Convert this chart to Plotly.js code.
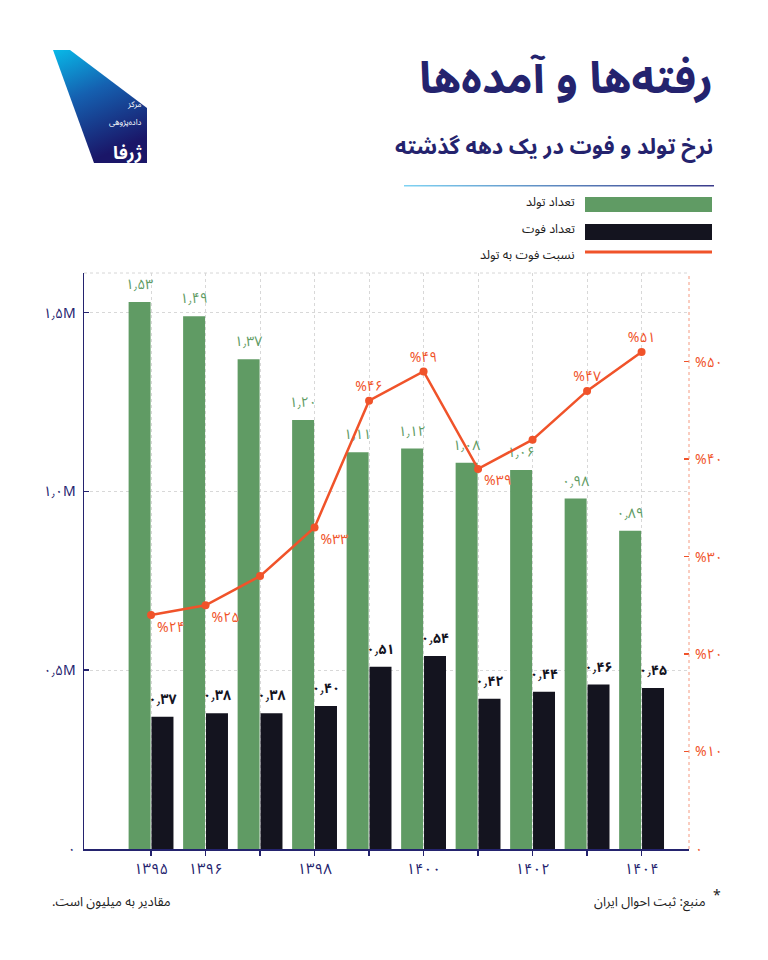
<!DOCTYPE html>
<html>
<head>
<meta charset="utf-8">
<script src="https://cdn.plot.ly/plotly-3.0.1.min.js"></script>
<style>html,body{margin:0;padding:0;background:#fff;}#chart{width:768px;height:960px;}</style>
</head>
<body>
<div id="chart"></div>
<script>
// ---- data ----
const years = [1395, 1396, 1397, 1398, 1399, 1400, 1401, 1402, 1403, 1404];
const yearLabels = ['۱۳۹۵', '۱۳۹۶', '', '۱۳۹۸', '', '۱۴۰۰', '', '۱۴۰۲', '', '۱۴۰۴'];
const births = [1.53, 1.49, 1.37, 1.20, 1.11, 1.12, 1.08, 1.06, 0.98, 0.89];
const deaths = [0.37, 0.38, 0.38, 0.40, 0.51, 0.54, 0.42, 0.44, 0.46, 0.45];
const ratio = [24, 25, 28, 33, 46, 49, 39, 42, 47, 51];
const ratioLabelShown = [true, true, false, true, true, true, true, false, true, true];
const leftTicks = [0, 0.5, 1.0, 1.5];
const leftTickLabels = ['۰', '۰٫۵M', '۱٫۰M', '۱٫۵M'];
const rightTicks = [0, 10, 20, 30, 40, 50];
const rightTickLabels = ['۰', '%۱۰', '%۲۰', '%۳۰', '%۴۰', '%۵۰'];

// ---- helpers ----
const fa = s => String(s).replace(/\d/g, d => '۰۱۲۳۴۵۶۷۸۹'[+d]).replace('.', '٫');
const W = 768, H = 960;
const L = 84, R = 689, T = 273, B = 849;
const px2x = px => (px - L) / (R - L);
const px2y = py => (B - py) / (B - T);

const NAVY = '#24236e';
const GREEN = '#609b64';
const DARK = '#14141f';
const ORANGE = '#f0532a';
const FONT = "'Noto Sans Arabic', 'DejaVu Sans', sans-serif";

const ratioPos = ['bottom right', 'bottom right', 'top center', 'bottom right', 'top center',
                  'top center', 'bottom right', 'top center', 'top center', 'top center'];

const traces = [
  {
    type: 'bar', x: years, y: births, name: 'تعداد تولد',
    marker: {color: GREEN},
    text: births.map(v => fa(v.toFixed(2))),
    textposition: 'outside', cliponaxis: false, constraintext: 'none',
    textfont: {family: FONT, size: 14, color: GREEN},
    hoverinfo: 'skip'
  },
  {
    type: 'bar', x: years, y: deaths, name: 'تعداد فوت',
    marker: {color: DARK},
    text: deaths.map(v => '<b>' + fa(v.toFixed(2)) + '</b>'),
    textposition: 'outside', cliponaxis: false, constraintext: 'none',
    textfont: {family: FONT, size: 14, color: DARK},
    hoverinfo: 'skip'
  },
  {
    type: 'scatter', x: years, y: ratio, yaxis: 'y2', name: 'نسبت فوت به تولد',
    mode: 'lines+markers+text',
    line: {color: ORANGE, width: 2.5},
    marker: {color: ORANGE, size: 8},
    text: ratio.map((v, i) => ratioLabelShown[i] ? '%' + fa(v) : ''),
    textposition: ratioPos,
    textfont: {family: FONT, size: 14, color: ORANGE},
    cliponaxis: false,
    hoverinfo: 'skip'
  }
];

// logo svg (decorative gradient polygon)
const logoSvg = `<svg xmlns="http://www.w3.org/2000/svg" width="96" height="115" viewBox="0 0 96 115">
<defs><linearGradient id="g" x1="0" y1="0" x2="0.35" y2="1">
<stop offset="0" stop-color="#08b9e8"/><stop offset="0.45" stop-color="#1560b0"/><stop offset="1" stop-color="#1a1668"/></linearGradient></defs>
<polygon points="1,1 18,1 95,59 95,114 42,114" fill="url(#g)"/></svg>`;
const lineSvg = `<svg xmlns="http://www.w3.org/2000/svg" width="310" height="4" viewBox="0 0 310 4">
<defs><linearGradient id="h" x1="0" y1="0" x2="1" y2="0">
<stop offset="0" stop-color="#7fd3f3"/><stop offset="1" stop-color="#3a3a8a"/></linearGradient></defs>
<rect x="0" y="1" width="310" height="1.5" fill="url(#h)"/></svg>`;
const uri = s => 'data:image/svg+xml;charset=utf-8,' + encodeURIComponent(s);

const annotations = [
  {text: '<b>رفته‌ها و آمده‌ها</b>', x: px2x(714), y: px2y(79), xanchor: 'right', yanchor: 'middle',
   font: {family: FONT, size: 44, color: NAVY}, borderpad: 0},
  {text: '<b>نرخ تولد و فوت در یک دهه گذشته</b>', x: px2x(714), y: px2y(147), xanchor: 'right', yanchor: 'middle',
   font: {family: FONT, size: 22, color: NAVY}, borderpad: 0},
  {text: 'تعداد تولد', x: px2x(576), y: px2y(202), xanchor: 'right', yanchor: 'middle',
   font: {family: FONT, size: 12.5, color: '#1a1a1a'}, borderpad: 0},
  {text: 'تعداد فوت', x: px2x(576), y: px2y(229), xanchor: 'right', yanchor: 'middle',
   font: {family: FONT, size: 12.5, color: '#1a1a1a'}, borderpad: 0},
  {text: 'نسبت فوت به تولد', x: px2x(576), y: px2y(255), xanchor: 'right', yanchor: 'middle',
   font: {family: FONT, size: 12.5, color: '#1a1a1a'}, borderpad: 0},
  {text: 'منبع: ثبت احوال ایران', x: px2x(708), y: px2y(902), xanchor: 'right', yanchor: 'middle',
   font: {family: FONT, size: 13, color: '#222'}},
  {text: '*', x: px2x(711), y: px2y(895), xanchor: 'left', yanchor: 'middle',
   font: {family: FONT, size: 14, color: '#222'}},
  {text: 'مقادیر به میلیون است.\u200F', x: px2x(50), y: px2y(902), xanchor: 'left', yanchor: 'middle',
   font: {family: FONT, size: 13, color: '#222'}},
  {text: 'مرکز', x: px2x(143), y: px2y(105), xanchor: 'right', yanchor: 'middle',
   font: {family: FONT, size: 8, color: '#fff'}, borderpad: 0},
  {text: 'داده‌پژوهی', x: px2x(143), y: px2y(123), xanchor: 'right', yanchor: 'middle',
   font: {family: FONT, size: 8, color: '#fff'}, borderpad: 0},
  {text: '<b>ژرفا</b>', x: px2x(143), y: px2y(153), xanchor: 'right', yanchor: 'middle',
   font: {family: FONT, size: 18, color: '#fff'}, borderpad: 0}
].map(a => Object.assign({xref: 'paper', yref: 'paper', showarrow: false}, a));

const shapes = [
  // top dotted border
  {type: 'line', xref: 'paper', yref: 'paper', x0: 0, x1: 1, y0: 1, y1: 1,
   line: {color: '#d6d6d6', width: 1, dash: 'dot'}},
  // right dotted axis line
  {type: 'line', xref: 'paper', yref: 'paper', x0: 1, x1: 1, y0: 0, y1: 1,
   line: {color: '#f59a80', width: 1, dash: 'dot'}},
  // legend swatches
  {type: 'rect', xref: 'paper', yref: 'paper', x0: px2x(585), x1: px2x(712), y0: px2y(197), y1: px2y(212),
   fillcolor: GREEN, line: {width: 0}},
  {type: 'rect', xref: 'paper', yref: 'paper', x0: px2x(585), x1: px2x(712), y0: px2y(224), y1: px2y(240),
   fillcolor: DARK, line: {width: 0}},
  {type: 'line', xref: 'paper', yref: 'paper', x0: px2x(585), x1: px2x(712), y0: px2y(252), y1: px2y(252),
   line: {color: ORANGE, width: 3}}
];

const images = [
  {source: uri(logoSvg), xref: 'paper', yref: 'paper', x: px2x(52), y: px2y(49),
   sizex: 96 / (R - L), sizey: 115 / (B - T), xanchor: 'left', yanchor: 'top', sizing: 'stretch', layer: 'below'},
  {source: uri(lineSvg), xref: 'paper', yref: 'paper', x: px2x(404), y: px2y(184),
   sizex: 310 / (R - L), sizey: 4 / (B - T), xanchor: 'left', yanchor: 'top', sizing: 'stretch', layer: 'below'}
];

const layout = {
  width: W, height: H,
  margin: {l: L, r: W - R, t: T, b: H - B, pad: 0},
  paper_bgcolor: '#fff', plot_bgcolor: '#fff',
  showlegend: false,
  barmode: 'group', bargap: 0.16, bargroupgap: 0.04,
  font: {family: FONT, color: NAVY},
  xaxis: {
    range: [1393.77, 1404.87], tickmode: 'array', tickvals: years, ticktext: yearLabels,
    ticks: 'outside', ticklen: 5, tickwidth: 1.5, tickcolor: NAVY,
    showline: true, linecolor: NAVY, linewidth: 1.5,
    showgrid: true, gridcolor: '#d8d8d8', griddash: 'dot', gridwidth: 1,
    zeroline: false, tickfont: {family: FONT, size: 15, color: NAVY}, fixedrange: true
  },
  yaxis: {
    range: [0, 1.611], tickmode: 'array', tickvals: leftTicks, ticktext: leftTickLabels,
    ticks: 'inside', ticklen: 5, tickwidth: 1.5, tickcolor: NAVY,
    showline: true, linecolor: NAVY, linewidth: 1.5,
    showgrid: true, gridcolor: '#d8d8d8', griddash: 'dot', gridwidth: 1,
    zeroline: false, tickfont: {family: FONT, size: 14, color: NAVY}, ticklabelstandoff: 4, fixedrange: true
  },
  yaxis2: {
    overlaying: 'y', side: 'right', range: [0, 59.1],
    tickmode: 'array', tickvals: rightTicks, ticktext: rightTickLabels,
    ticks: 'inside', ticklen: 5, tickwidth: 1.5, tickcolor: ORANGE,
    showline: false, showgrid: false, zeroline: false,
    tickfont: {family: FONT, size: 14, color: ORANGE}, ticklabelstandoff: 5, fixedrange: true
  },
  annotations: annotations,
  shapes: shapes,
  images: images
};

Plotly.newPlot('chart', traces, layout, {displayModeBar: false, staticPlot: true});
</script>
</body>
</html>
